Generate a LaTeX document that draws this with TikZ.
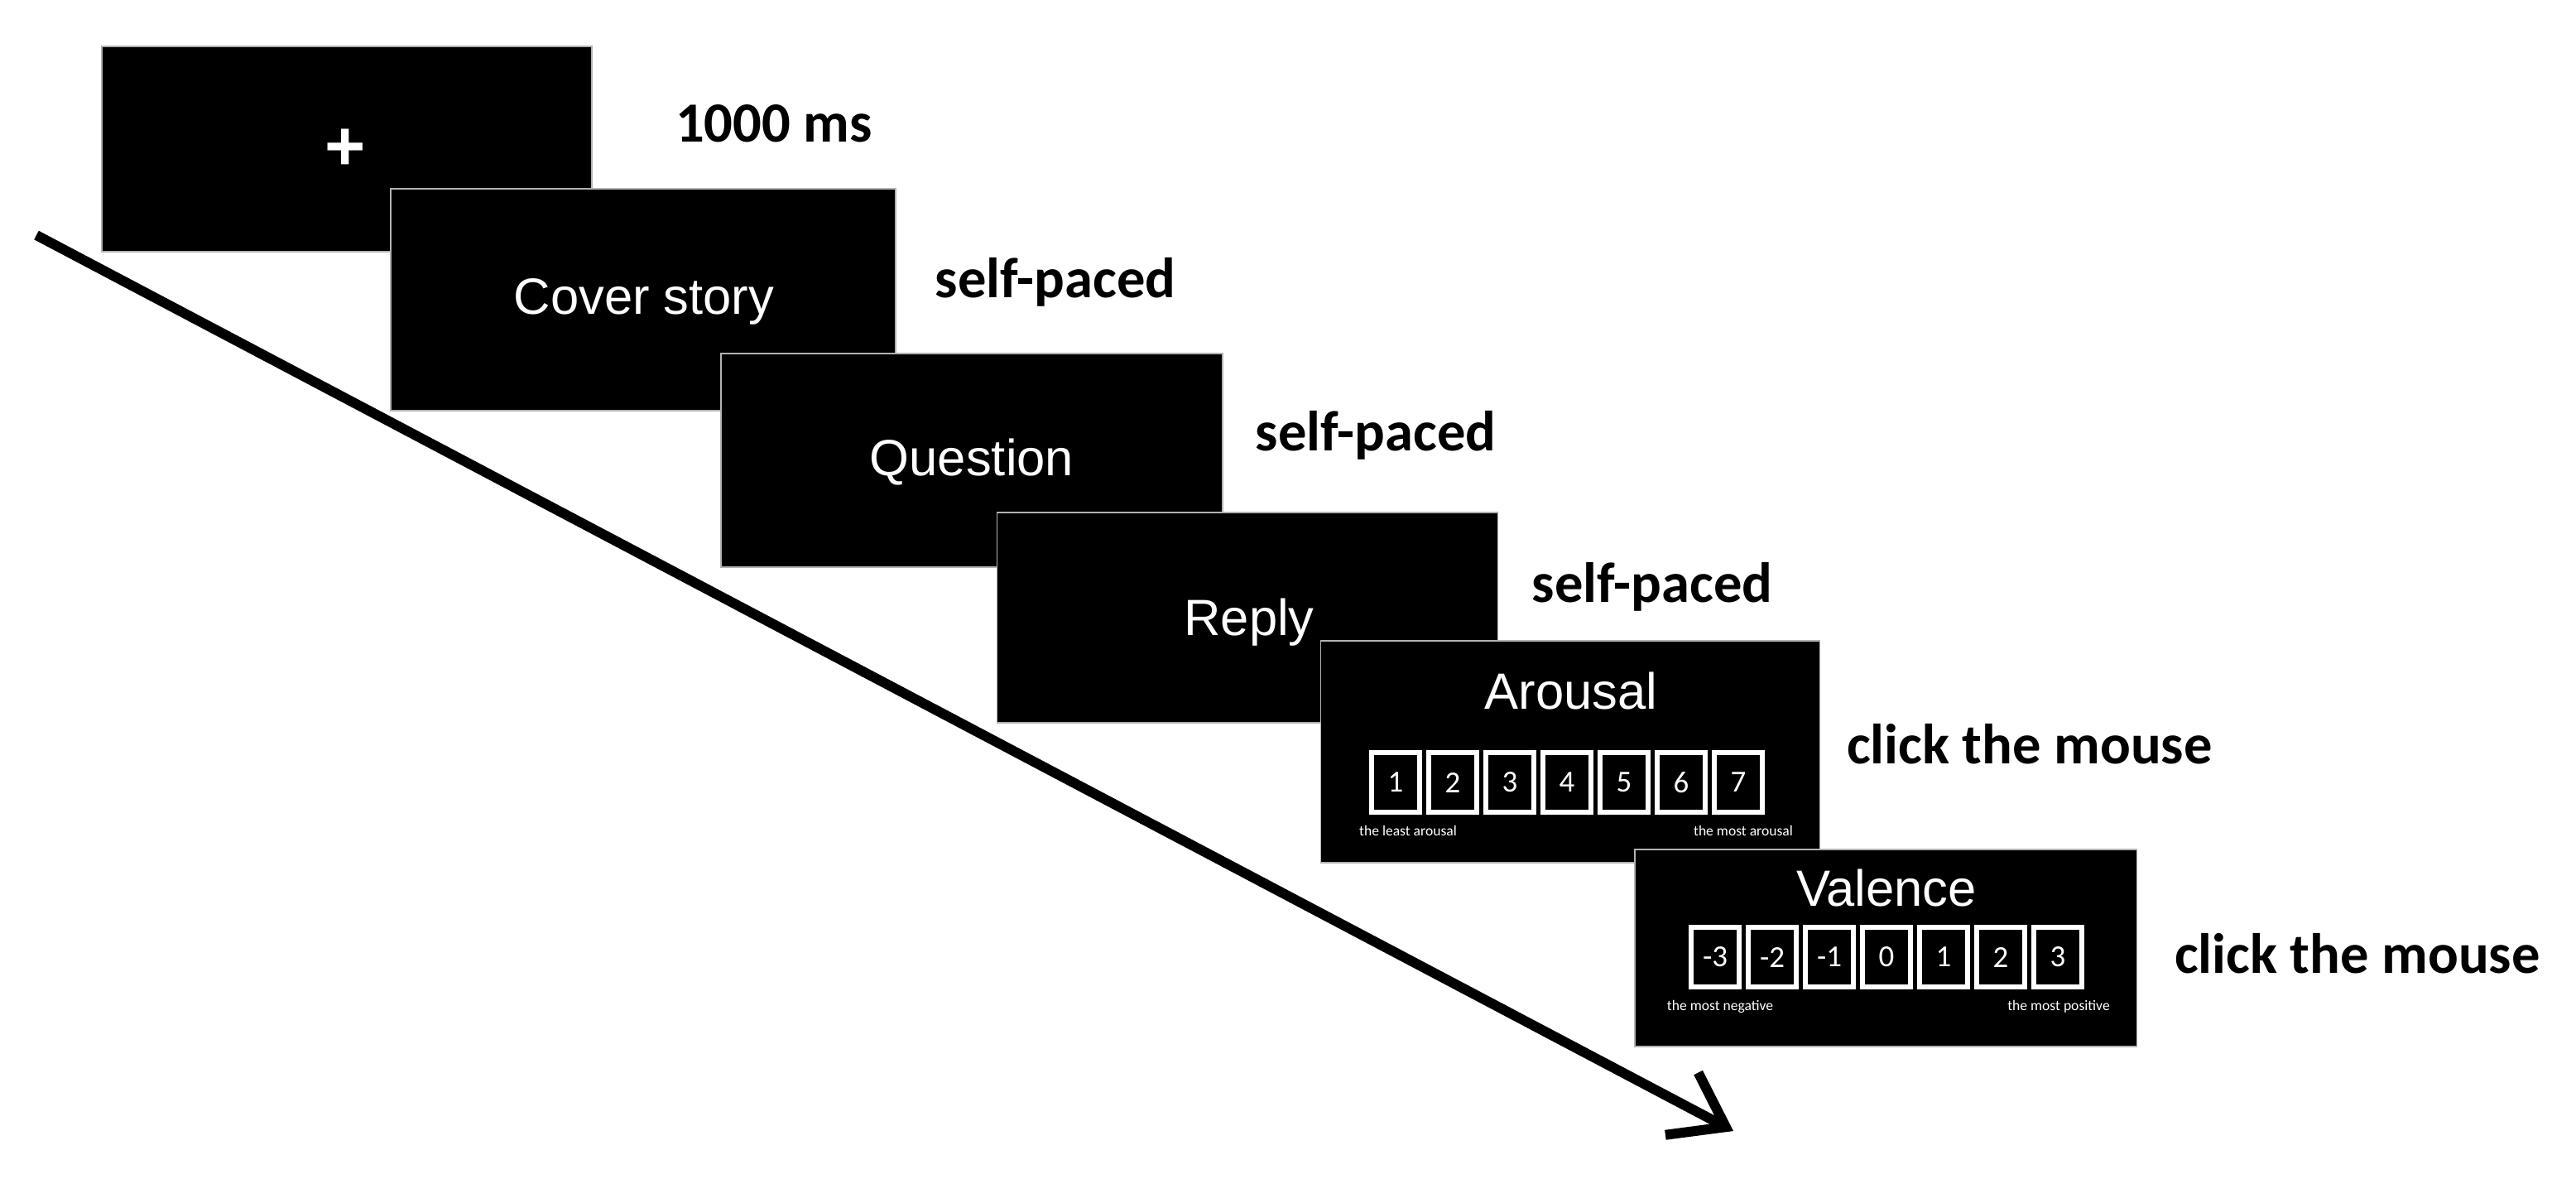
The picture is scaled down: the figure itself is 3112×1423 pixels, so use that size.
\documentclass[tikz,border=0pt]{standalone}
\usepackage{fontspec}
\setmainfont{Liberation Sans}
\newfontfamily\carlitofont{Carlito}
\usetikzlibrary{arrows.meta}
\begin{document}
\begin{tikzpicture}[x=0.01cm,y=-0.01cm,
  screen/.style={fill=black,draw=gray!60,line width=0.4pt,inner sep=0pt},
  ttl/.style={text=white,font=\fontsize{17.5}{20}\selectfont},
  lbl/.style={font=\carlitofont\bfseries\fontsize{19.5}{22}\selectfont,anchor=center},
  sbox/.style={draw=white,line width=0.065cm,fill=black,minimum width=0.58cm,minimum height=0.72cm,inner sep=0pt,text=white,font=\carlitofont\fontsize{10.5}{12}\selectfont},
  small/.style={text=white,font=\carlitofont\fontsize{5}{6}\selectfont}]
\useasboundingbox (0,0) rectangle (3112,1423);
\coordinate (as) at (44,284);
\coordinate (ae) at (2094,1366);
\draw[line width=0.12cm,-{Straight Barb[length=0.6cm,width=0.85cm,line width=0.12cm]}] (as) -- (ae);
\node[screen,minimum width=5.92cm,minimum height=2.48cm] (s1) at (419,180) {};
\node[text=white,font=\fontsize{24}{24}\selectfont\bfseries] (plus) at (417,181) {+};
\node[screen,minimum width=6.10cm,minimum height=2.68cm] (s2) at (777,362) {};
\node[ttl] (t2) at (778,364) {Cover story};
\node[screen,minimum width=6.06cm,minimum height=2.58cm] (s3) at (1174,556) {};
\node[ttl] (t3) at (1174,558) {Question};
\node[screen,minimum width=6.05cm,minimum height=2.54cm] (s4) at (1507,746) {};
\node[ttl] (t4) at (1509,752) {Reply};
\node[screen,minimum width=6.03cm,minimum height=2.68cm] (s5) at (1897,908) {};
\node[ttl] (t5) at (1898,834) {Arousal};
\foreach \v [count=\i from 0] in {1,...,7}
  \node[sbox] (a\v) at (1686+\i*69,945) {\v};
\node[small] (al) at (1701,1003) {the least arousal};
\node[small] (ar) at (2106,1003) {the most arousal};
\node[screen,minimum width=6.06cm,minimum height=2.38cm] (s6) at (2278,1145) {};
\node[ttl] (t6) at (2279,1072) {Valence};
\foreach \v [count=\i from 0] in {-3,-2,-1,0,1,2,3}
  \node[sbox] (v\i) at (2072+\i*69,1156) {\v};
\node[small] (vl) at (2078,1216) {the most negative};
\node[small] (vr) at (2487,1216) {the most positive};
\node[lbl] (l1) at (935,149) {1000 ms};
\node[lbl] (l2) at (1275,341) {self-paced};
\node[lbl] (l3) at (1662,526) {self-paced};
\node[lbl] (l4) at (1996,709) {self-paced};
\node[lbl] (l5) at (2452,899) {click the mouse};
\node[lbl] (l6) at (2848,1152) {click the mouse};
\end{tikzpicture}
\end{document}
